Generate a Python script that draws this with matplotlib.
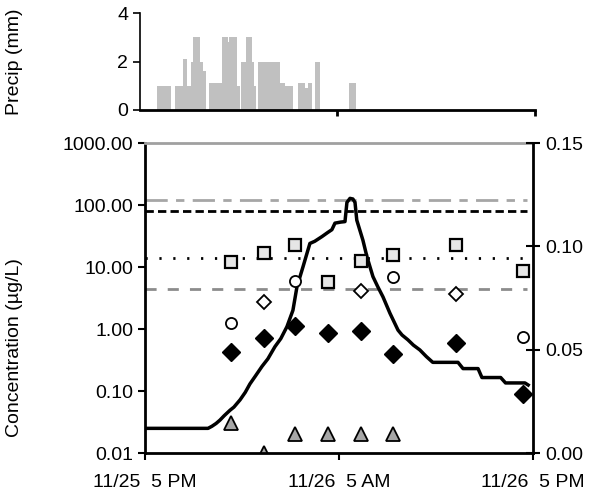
import numpy as np
import matplotlib
matplotlib.use('Agg')
import matplotlib.pyplot as plt

plt.rcParams['font.family'] = ['Liberation Sans', 'DejaVu Sans']

# --- data (hours after 11/25 5 PM) ---
precip_edges = [1.01, 1.87, 2.13, 2.63, 2.84, 3.08, 3.24, 3.65, 3.85, 4.01, 4.19,
                4.96, 5.32, 5.38, 5.91, 6.08, 6.14, 6.44, 6.79, 6.90, 7.05, 7.19,
                8.51, 8.81, 9.31, 9.58, 10.02, 10.21, 10.47, 10.63, 10.94, 12.72, 13.12]
precip_mm = [1.0, 0, 1.0, 2.1, 1.0, 2.0, 3.0, 2.0, 1.6, 0, 1.1,
             3.0, 2.8, 3.0, 1.0, 0, 2.0, 3.0, 2.0, 1.0, 0, 2.0,
             1.1, 1.0, 0, 1.1, 0.9, 1.1, 0, 2.0, 0, 1.1]

line_hours = [0, 3.9, 4.14, 4.4, 4.64, 4.9, 5.26, 5.5, 5.88, 6.2, 6.49, 6.8, 7.24,
              7.6, 8.04, 8.4, 8.78, 9.15, 9.4, 9.77, 10.2, 10.5, 10.95, 11.3, 11.56,
              11.75, 12.1, 12.37, 12.49, 12.68, 12.86, 12.99, 13.1, 13.48, 13.73,
              14.1, 14.4, 14.72, 15.15, 15.65, 15.9, 16.26, 16.6, 17.0, 17.4, 17.8,
              19.36, 19.67, 20.6, 20.84, 22.0, 22.3, 23.5, 23.7]
line_conc = [0.025, 0.025, 0.027, 0.030, 0.034, 0.040, 0.049, 0.055, 0.072, 0.095,
             0.13, 0.17, 0.25, 0.33, 0.52, 0.70, 1.09, 2.0, 4.8, 10, 24, 26, 31, 36,
             40, 51, 53, 54, 110, 128, 125, 110, 57, 27, 14.6, 7, 4.8, 3.3, 1.8,
             0.96, 0.8, 0.67, 0.55, 0.46, 0.36, 0.29, 0.29, 0.23, 0.23, 0.165,
             0.165, 0.135, 0.135, 0.125]

sample_hours = [5.35, 7.35, 9.25, 11.3, 13.35, 15.35, 19.25, 23.4]
squares = [12.2, 17, 22.6, 5.8, 12.5, 15.6, 22.6, 8.6]
filled_diamonds = [0.43, 0.71, 1.12, 0.85, 0.94, 0.39, 0.59, 0.089]
circle_hours = [5.35, 9.25, 15.35, 23.4]
circles = [1.23, 5.9, 7.0, 0.75]
open_diamond_hours = [7.35, 13.35, 19.25]
open_diamonds = [2.76, 4.1, 3.7]
triangle_hours = [5.35, 7.35, 9.25, 11.3, 13.35, 15.35]
triangles = [0.030, 0.010, 0.020, 0.020, 0.020, 0.020]

thresholds = [120, 80, 14, 4.4]

xtick_hours = [0, 12, 24]
xtick_labels = ['11/25  5 PM', '11/26  5 AM', '11/26  5 PM']

FS = 14

fig = plt.figure(figsize=(5.91, 4.95), dpi=100)

# --- precipitation panel ---
ax_p = fig.add_axes([0.2369, 0.7778, 0.6683, 0.1959])
ax_p.stairs(precip_mm, precip_edges, fill=True, color='#c0c0c0')
ax_p.set_xlim(0, 24)
ax_p.set_ylim(0, 4)
ax_p.set_yticks([0, 2, 4])
ax_p.set_xticks([12, 24])
ax_p.set_xticklabels([])
ax_p.spines['top'].set_visible(False)
ax_p.spines['right'].set_visible(False)
ax_p.spines['bottom'].set_linewidth(2)
ax_p.spines['left'].set_linewidth(1.2)
ax_p.tick_params(axis='y', labelsize=FS, length=5, width=1.2)
ax_p.tick_params(axis='x', length=4, width=2)
ax_p.set_ylabel('Precip (mm)', fontsize=FS)
ax_p.yaxis.set_label_coords(-0.295, 0.5)

# --- concentration panel ---
ax = fig.add_axes([0.2453, 0.0848, 0.6566, 0.6263])
ax.set_yscale('log')
ax.set_xlim(0, 24)
ax.set_ylim(0.01, 1000)

ax.hlines(thresholds[0], 0, 23.6, colors='#a6a6a6', lw=2, linestyles=(0, (8, 3, 3, 3)))
ax.hlines(thresholds[1], 0, 23.6, colors='black', lw=2, linestyles=(0, (3, 1.5)))
ax.hlines(thresholds[2], 0, 23.6, colors='black', lw=2, linestyles=(0, (0.8, 4.2)))
ax.hlines(thresholds[3], 0, 23.6, colors='#8c8c8c', lw=2, linestyles=(0, (4, 4)))

ax.plot(line_hours, line_conc, color='black', lw=2.5)

ax.plot(sample_hours, squares, 's', ms=9, mfc='#e6e6e6', mec='black', mew=1.6)
ax.plot(circle_hours, circles, 'o', ms=8, mfc='white', mec='black', mew=1.3)
ax.plot(open_diamond_hours, open_diamonds, 'D', ms=7.5, mfc='white', mec='black', mew=1.3)
ax.plot(sample_hours, filled_diamonds, 'D', ms=9, color='black')
ax.plot(triangle_hours, triangles, '^', ms=10, mfc='#a6a6a6', mec='black', mew=1.3)

ax.set_yticks([0.01, 0.1, 1, 10, 100, 1000])
ax.set_yticklabels(['0.01', '0.10', '1.00', '10.00', '100.00', '1000.00'])
ax.minorticks_off()
ax.set_xticks(xtick_hours)
ax.set_xticklabels(xtick_labels)
ax.tick_params(axis='both', labelsize=FS, length=5, width=1.5)
ax.tick_params(axis='x', pad=10)
ax.spines['top'].set_color('#a0a0a0')
ax.spines['top'].set_linewidth(2)
for s in ['left', 'bottom']:
    ax.spines[s].set_linewidth(2)
ax.spines['right'].set_visible(False)
ax.set_ylabel('Concentration (\u00b5g/L)', fontsize=FS)
ax.yaxis.set_label_coords(-0.315, 0.34)

# right axis (linear)
ax_r = ax.twinx()
ax_r.set_ylim(0, 0.15)
ax_r.set_yticks([0, 0.05, 0.10, 0.15])
ax_r.set_yticklabels(['0.00', '0.05', '0.10', '0.15'])
ax_r.tick_params(axis='y', labelsize=FS, length=10, width=1.5, direction='inout')
ax_r.spines['right'].set_linewidth(2)
for s in ['top', 'left', 'bottom']:
    ax_r.spines[s].set_visible(False)

fig.savefig('out.png', dpi=100)
